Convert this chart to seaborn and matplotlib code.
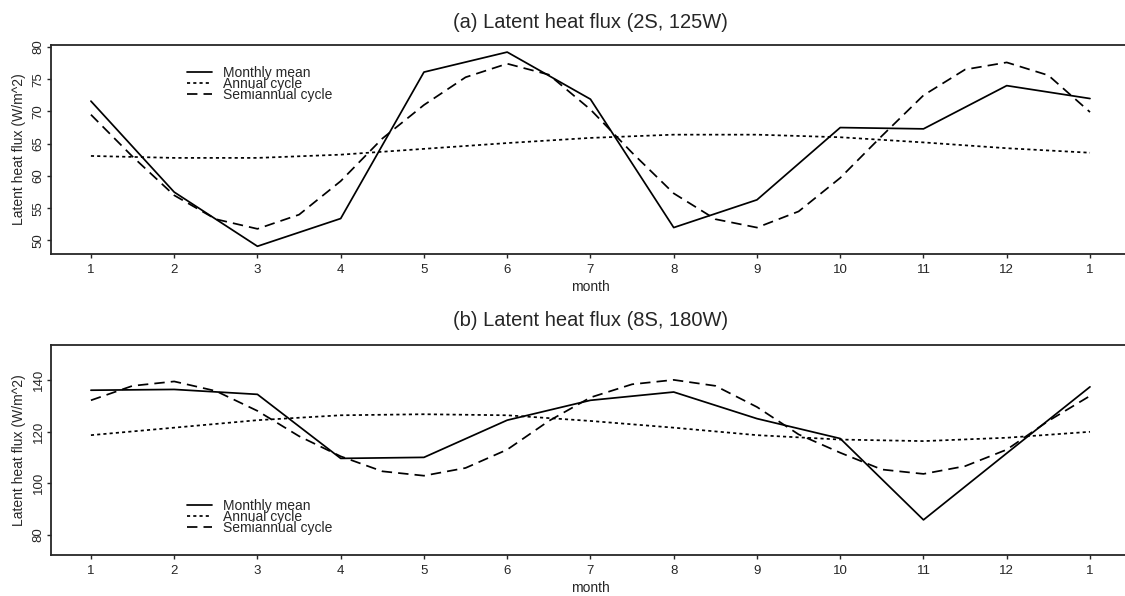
import matplotlib
matplotlib.use("Agg")
import matplotlib.pyplot as plt
import pandas as pd
import seaborn as sns

MONTHS = [1, 2, 3, 4, 5, 6, 7, 8, 9, 10, 11, 12, 13]
MONTH_LABELS = ["1", "2", "3", "4", "5", "6", "7", "8", "9", "10", "11", "12", "1"]
HALF_MONTHS = [1, 1.5, 2, 2.5, 3, 3.5, 4, 4.5, 5, 5.5, 6, 6.5, 7,
               7.5, 8, 8.5, 9, 9.5, 10, 10.5, 11, 11.5, 12, 12.5, 13]

# (a) 2S, 125W
a_monthly = [71.6, 57.5, 49.1, 53.4, 76.1, 79.2, 71.9, 52.0, 56.3, 67.5, 67.3, 74.0, 72.0]
a_annual = [63.1, 62.8, 62.8, 63.3, 64.2, 65.1, 65.9, 66.4, 66.4, 66.0, 65.2, 64.3, 63.6]
a_semi = [69.5, 63.0, 57.0, 53.3, 51.8, 54.0, 59.2, 65.8, 71.0, 75.3, 77.4, 75.7, 70.3,
          63.6, 57.3, 53.3, 52.0, 54.5, 59.7, 66.2, 72.5, 76.5, 77.6, 75.6, 69.9]

# (b) 8S, 180W
b_monthly = [136.0, 136.3, 134.4, 109.6, 110.0, 124.4, 132.1, 135.3, 125.0, 117.3, 85.8, 111.6, 137.3]
b_annual = [118.6, 121.5, 124.4, 126.3, 126.7, 126.3, 124.1, 121.5, 118.6, 116.9, 116.3, 117.6, 119.9]
b_semi = [132.1, 137.7, 139.4, 135.7, 128.0, 118.2, 110.4, 104.6, 102.9, 105.9, 113.0, 124.1, 133.2,
          138.3, 140.0, 137.7, 129.5, 118.9, 111.8, 105.3, 103.6, 106.6, 113.0, 124.1, 133.8]

sns.set_style("ticks")
plt.rcParams["font.family"] = ["Liberation Sans", "DejaVu Sans"]

LW = 1.25
SOLID = "-"
DOTTED = (0, (1.8, 1.8))
DASHED = (0, (6, 3.5))


def draw_panel(ax, monthly, annual, semi, title, ylim, yticks, legend_y, title_pad):
    df = pd.DataFrame({"month": MONTHS, "monthly": monthly, "annual": annual})
    semi_df = pd.DataFrame({"month": HALF_MONTHS, "semi": semi})
    sns.lineplot(data=df, x="month", y="monthly", ax=ax, color="black",
                 lw=LW, linestyle=SOLID, label="Monthly mean")
    sns.lineplot(data=df, x="month", y="annual", ax=ax, color="black",
                 lw=LW, linestyle=DOTTED, label="Annual cycle")
    sns.lineplot(data=semi_df, x="month", y="semi", ax=ax, color="black",
                 lw=LW, linestyle=DASHED, label="Semiannual cycle")

    ax.set_xlim(0.52, 13.48)
    ax.set_ylim(*ylim)
    ax.set_xticks(MONTHS)
    ax.set_xticklabels(MONTH_LABELS)
    ax.set_yticks(yticks)
    ax.set_yticklabels([str(t) for t in yticks], rotation=90, va="center")
    ax.tick_params(axis="x", length=3, width=1, pad=4, labelsize=9.5)
    ax.tick_params(axis="y", length=3, width=1, pad=1.5, labelsize=9.5)
    ax.set_xlabel("month", fontsize=10, labelpad=3)
    ax.set_ylabel("Latent heat flux (W/m^2)", fontsize=10, labelpad=5)
    ax.set_title(title, fontsize=14.5, pad=title_pad)
    for s in ax.spines.values():
        s.set_linewidth(1.3)
        s.set_visible(True)

    ax.legend(loc="upper left", bbox_to_anchor=(0.126, legend_y), frameon=False,
              fontsize=10, handlelength=1.8, handletextpad=0.8,
              labelspacing=-0.22, borderpad=0, borderaxespad=0)


fig = plt.figure(figsize=(11.25, 5.96), dpi=100)
ax_a = fig.add_axes([0.0453, 0.5738, 1.0044 - 0.0453, 0.9245 - 0.5738])
ax_b = fig.add_axes([0.0453, 0.0688, 1.0044 - 0.0453, 0.4211 - 0.0688])

draw_panel(ax_a, a_monthly, a_annual, a_semi, "(a) Latent heat flux (2S, 125W)",
           (47.9, 80.3), [50, 55, 60, 65, 70, 75, 80], 0.90, 12)
draw_panel(ax_b, b_monthly, b_annual, b_semi, "(b) Latent heat flux (8S, 180W)",
           (72.2, 153.5), [80, 100, 120, 140], 0.268, 13.5)

fig.savefig("out.png", dpi=100)
